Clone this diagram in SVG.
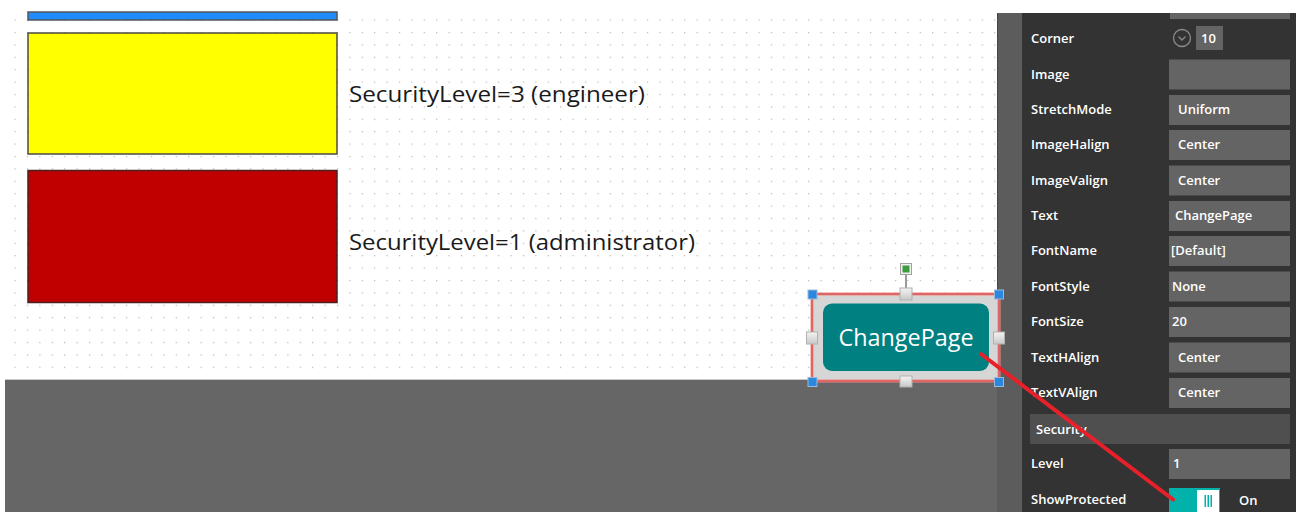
<svg xmlns="http://www.w3.org/2000/svg" width="1296" height="512" viewBox="0 0 1296 512">
<defs>
<pattern id="grid" patternUnits="userSpaceOnUse" x="14.5" y="19.5" width="12.4" height="12.4">
<rect x="0" y="0" width="1.2" height="1.2" fill="#b4b4b4"/>
</pattern>
<linearGradient id="hg" x1="0" y1="0" x2="0" y2="1">
<stop offset="0" stop-color="#f4f4f4"/><stop offset="1" stop-color="#c8c8c8"/>
</linearGradient>
</defs>
<style>
.lbl{font-family:"Open Sans","Noto Sans",sans-serif;font-size:13px;font-weight:600;fill:#ffffff}
.val{font-family:"Open Sans","Noto Sans",sans-serif;font-size:13px;font-weight:600;fill:#ffffff}
.box{fill:#646464}
.cap{font-family:"Open Sans","Noto Sans",sans-serif;font-size:22px;fill:#1a1a1a}
.hblue{fill:#2a88e0;stroke:#9ab8d8;stroke-width:1}
.hgray{fill:url(#hg);stroke:#b0b0b0;stroke-width:1}
</style>
<rect x="0" y="0" width="1296" height="512" fill="#ffffff"/>
<rect x="5" y="13" width="992" height="366" fill="url(#grid)"/>
<rect x="5" y="379" width="993" height="1.5" fill="#c8c8c8"/>
<rect x="5" y="380" width="993" height="132" fill="#666666"/>
<rect x="997" y="13" width="25" height="499" fill="#5c5c5c"/>
<rect x="997" y="13" width="1" height="367" fill="#444444"/>
<rect x="1022" y="13" width="274" height="499" fill="#333333"/>

<g id="blue-rect"><rect x="28" y="12" width="309" height="8" fill="#1e8cff" stroke="#555555" stroke-width="1.5"/></g>
<g id="yellow-rect"><rect x="28" y="33" width="309" height="121" fill="#ffff00" stroke="#4a4a4a" stroke-width="1.5"/></g>
<g id="red-rect"><rect x="28" y="170.5" width="309" height="132" fill="#c00000" stroke="#4a2020" stroke-width="1.5"/></g>
<g id="label-engineer"><text class="cap" x="349" y="102" textLength="296" lengthAdjust="spacingAndGlyphs">SecurityLevel=3 (engineer)</text></g>
<g id="label-admin"><text class="cap" x="349" y="250" textLength="346" lengthAdjust="spacingAndGlyphs">SecurityLevel=1 (administrator)</text></g>

<g id="changepage-button">
<rect x="812" y="294" width="187" height="87" fill="#d6d6d6" stroke="#f08a8a" stroke-width="3"/>
<rect x="812" y="294" width="187" height="87" fill="none" stroke="#d04040" stroke-width="1"/>
<rect x="823" y="303.5" width="166" height="67.5" rx="9" fill="#008080"/>
<text x="906" y="346" text-anchor="middle" font-family="Open Sans, Noto Sans, sans-serif" font-size="23" fill="#ffffff" textLength="135" lengthAdjust="spacingAndGlyphs">ChangePage</text>
<line x1="906" y1="274" x2="906" y2="288" stroke="#9a9a9a" stroke-width="2"/>
<rect x="900.5" y="263.5" width="11" height="11" fill="#f0f0f0" stroke="#a0a0a0"/>
<rect x="902.5" y="265.5" width="7" height="7" fill="#3c9c3c"/>
<rect class="hgray" x="900" y="288" width="12" height="12"/>
<rect class="hgray" x="900" y="376" width="12" height="11"/>
<rect class="hgray" x="806.5" y="332" width="11" height="12"/>
<rect class="hgray" x="993.5" y="332" width="11" height="12"/>
<rect class="hblue" x="808" y="290" width="9" height="9"/>
<rect class="hblue" x="994.5" y="290" width="9" height="9"/>
<rect class="hblue" x="808" y="377.5" width="9" height="9"/>
<rect class="hblue" x="994.5" y="377.5" width="9" height="9"/>
</g>

<g id="properties-panel">
<rect class="box" x="1170" y="13" width="120" height="6"/>
<text class="lbl" x="1031" y="43">Corner</text>
<circle cx="1182" cy="38" r="8.5" fill="none" stroke="#8a8a8a" stroke-width="1.3"/>
<polyline points="1178.5,36.5 1182,40 1185.5,36.5" fill="none" stroke="#8a8a8a" stroke-width="1.3"/>
<rect class="box" x="1196" y="26" width="27" height="24"/>
<text class="val" x="1201" y="43" font-weight="700">10</text>

<text class="lbl" x="1031" y="79">Image</text>
<rect class="box" x="1169" y="59.5" width="121" height="30"/>

<text class="lbl" x="1031" y="114">StretchMode</text>
<rect class="box" x="1169" y="95" width="121" height="30"/>
<text class="val" x="1178" y="114">Uniform</text>

<text class="lbl" x="1031" y="149">ImageHalign</text>
<rect class="box" x="1169" y="130" width="121" height="30"/>
<text class="val" x="1178" y="149">Center</text>

<text class="lbl" x="1031" y="185">ImageValign</text>
<rect class="box" x="1169" y="165.5" width="121" height="30"/>
<text class="val" x="1178" y="185">Center</text>

<text class="lbl" x="1031" y="220">Text</text>
<rect class="box" x="1169" y="201" width="121" height="30"/>
<text class="val" x="1175" y="220">ChangePage</text>

<text class="lbl" x="1031" y="255">FontName</text>
<rect class="box" x="1169" y="236" width="121" height="30"/>
<text class="val" x="1171" y="255">[Default]</text>

<text class="lbl" x="1031" y="291">FontStyle</text>
<rect class="box" x="1169" y="271.5" width="121" height="30"/>
<text class="val" x="1172" y="291">None</text>

<text class="lbl" x="1031" y="326">FontSize</text>
<rect class="box" x="1169" y="307" width="121" height="30"/>
<text class="val" x="1172" y="326">20</text>

<text class="lbl" x="1031" y="362">TextHAlign</text>
<rect class="box" x="1169" y="342.5" width="121" height="30"/>
<text class="val" x="1178" y="362">Center</text>

<text class="lbl" x="1031" y="397">TextVAlign</text>
<rect class="box" x="1169" y="378" width="121" height="30"/>
<text class="val" x="1178" y="397">Center</text>

<rect x="1030" y="414" width="260" height="30" fill="#4f4f4f"/>
<text class="lbl" x="1036" y="434" font-size="14" font-weight="700">Security</text>

<text class="lbl" x="1031" y="468">Level</text>
<rect class="box" x="1169" y="449" width="121" height="30"/>
<text class="val" x="1173" y="468">1</text>

<text class="lbl" x="1031" y="504">ShowProtected</text>
<rect x="1169" y="488" width="51" height="26" fill="#00b2a9"/>
<rect x="1197" y="490" width="22" height="22" fill="#ffffff"/>
<rect x="1204.5" y="495" width="1.5" height="12" fill="#00b2a9"/>
<rect x="1207.5" y="495" width="1.5" height="12" fill="#00b2a9"/>
<rect x="1210.5" y="495" width="1.5" height="12" fill="#00b2a9"/>
<text class="val" x="1239" y="505" font-size="14">On</text>
</g>

<g id="connectors">
<line x1="981" y1="354" x2="1173" y2="499.5" stroke="#e8202a" stroke-width="4" stroke-linecap="round"/>
</g>
</svg>
